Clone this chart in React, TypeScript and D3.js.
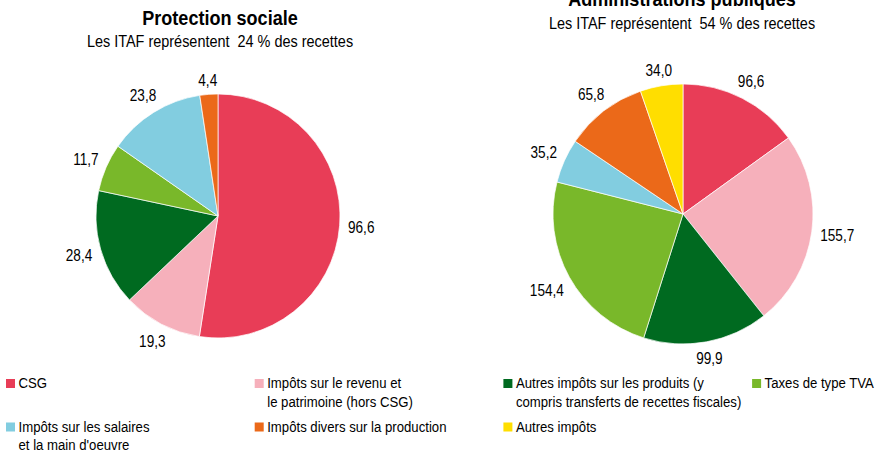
import React from "react";
import * as d3 from "d3";

const categories = [
  "CSG",
  "Impôts sur le revenu et le patrimoine (hors CSG)",
  "Autres impôts sur les produits (y compris transferts de recettes fiscales)",
  "Taxes de type TVA",
  "Impôts sur les salaires et la main d'oeuvre",
  "Impôts divers sur la production",
  "Autres impôts",
];
const legendLines = [
  ["CSG"],
  ["Impôts sur le revenu et", "le patrimoine (hors CSG)"],
  ["Autres impôts sur les produits (y", "compris transferts de recettes fiscales)"],
  ["Taxes de type TVA"],
  ["Impôts sur les salaires", "et la main d'oeuvre"],
  ["Impôts divers sur la production"],
  ["Autres impôts"],
];
const colors = ["#E83D57", "#F6B0BB", "#006A20", "#79B82A", "#82CDE0", "#EB6919", "#FFDE00"];

const protectionValues = [96.6, 19.3, 28.4, 11.7, 23.8, 4.4];
const apuValues = [96.6, 155.7, 99.9, 154.4, 35.2, 65.8, 34.0];

const titles = ["Protection sociale", "Administrations publiques"];
const subtitles = [
  "Les ITAF représentent  24 % des recettes",
  "Les ITAF représentent  54 % des recettes",
];

const FONT = "'Liberation Sans', Arial, sans-serif";
const SX = 0.85;

let ctx: CanvasRenderingContext2D | null = null;
function textWidth(s: string, size: number, weight = "normal") {
  if (!ctx) ctx = document.createElement("canvas").getContext("2d");
  if (!ctx) return s.length * size * 0.5;
  ctx.font = `${weight} ${size}px ${FONT}`;
  return ctx.measureText(s).width;
}

const fmt = (v: number) => v.toFixed(1).replace(".", ",");

function Txt({ x, y, size, children, anchor = "middle", weight = "normal", sx = SX }: any) {
  return (
    <text
      transform={`translate(${x},${y}) scale(${sx},1)`}
      textAnchor={anchor}
      fontSize={size}
      fontWeight={weight}
      fontFamily={FONT}
      fill="#000"
      style={{ whiteSpace: "pre" }}
      xmlSpace="preserve"
    >
      {children}
    </text>
  );
}

function Pie({ values, cx, cy, r, title, subtitle, titleY, subY, titleX }: any) {
  const pie = d3.pie<number>().sort(null).value((d) => d)(values);
  const arc = d3.arc<d3.PieArcDatum<number>>().innerRadius(0).outerRadius(r);
  const labelSize = 16;
  const gap = 8;
  return (
    <g>
      <Txt x={titleX} y={titleY} size={21} weight="bold" sx={0.86}>{title}</Txt>
      <Txt x={titleX} y={subY} size={17}>{subtitle}</Txt>
      <g transform={`translate(${cx},${cy})`}>
        {pie.map((p, i) => (
          <path key={i} d={arc(p) || ""} fill={colors[i]} stroke="#fff" strokeWidth={0.7} />
        ))}
        {pie.map((p, i) => {
          const a = (p.startAngle + p.endAngle) / 2;
          const s = Math.sin(a);
          const c = -Math.cos(a);
          const label = fmt(p.data);
          const w = textWidth(label, labelSize) * SX;
          const h = 12;
          const d = r + gap + (w / 2) * Math.abs(s) + (h / 2) * Math.abs(c);
          return (
            <Txt key={"l" + i} x={d * s} y={d * c + 6} size={labelSize}>{label}</Txt>
          );
        })}
      </g>
    </g>
  );
}

export default function App() {
  const colX = d3.range(4).map((i) => 6 + i * 248.7);
  const rowY = [388, 431.5];
  const lineH = 18.5;
  return (
    <svg
      width={878}
      height={453}
      style={{ position: "absolute", left: 0, top: 0, background: "#fff" }}
    >
      <rect width={878} height={453} fill="#fff" />
      <Pie values={protectionValues} cx={218} cy={216} r={122} title={titles[0]} subtitle={subtitles[0]} titleX={220} titleY={25} subY={46.7} />
      <Pie values={apuValues} cx={683} cy={214} r={130} title={titles[1]} subtitle={subtitles[1]} titleX={682} titleY={6} subY={28.5} />
      <g>
        {categories.map((cat, i) => {
          const x = colX[i % 4];
          const y = rowY[Math.floor(i / 4)];
          return (
            <g key={cat}>
              <rect x={x} y={y - 9} width={9} height={9} fill={colors[i]} />
              {legendLines[i].map((ln, j) => (
                <Txt key={j} x={x + 12.5} y={y + j * lineH} size={15.5} anchor="start">{ln}</Txt>
              ))}
            </g>
          );
        })}
      </g>
    </svg>
  );
}
